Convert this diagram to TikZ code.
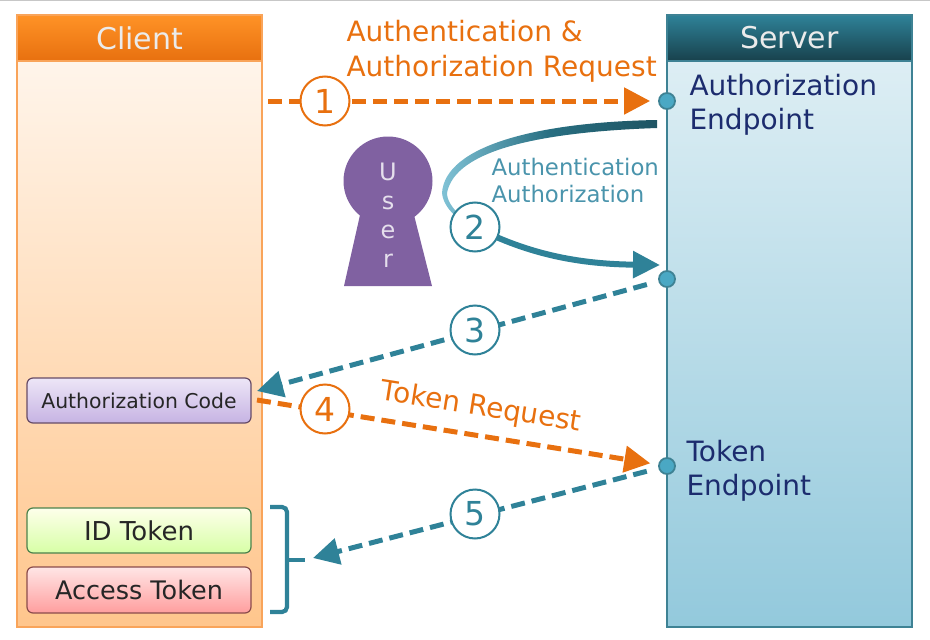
\documentclass[tikz,border=0pt]{standalone}
\usepackage{fontspec}
\setmainfont{DejaVu Sans}
\usetikzlibrary{arrows.meta}
\pgfdeclarelayer{panels}
\pgfdeclarelayer{flows}
\pgfsetlayers{panels,flows,main}
\definecolor{flowOrange}{HTML}{E8700F}
\definecolor{flowTeal}{HTML}{2F8298}
\definecolor{labelTeal}{HTML}{4A94AC}
\definecolor{labelNavy}{HTML}{1C2C6E}
\definecolor{userPurple}{HTML}{8061A1}
\definecolor{clientEdge}{HTML}{F9A45A}
\definecolor{serverEdge}{HTML}{3E8294}
\definecolor{serverTop}{HTML}{DDEEF4}
\definecolor{serverLow}{HTML}{93C9DC}
\definecolor{codeTop}{HTML}{EDE6F7}
\definecolor{codeLow}{HTML}{C6B3E3}
\definecolor{portFill}{HTML}{4AA8C4}
\def\Client{Client}
\def\Server{Server}
\def\AuthCode{Authorization Code}
\def\IdToken{ID Token}
\def\AccessToken{Access Token}
\tikzset{
    panelhead/.style={draw, anchor=north west, outer sep=0pt, line width=1.5pt, minimum width=245pt, minimum height=46pt, inner sep=0pt,
        text=white!92!black, font=\fontsize{30}{32}\selectfont},
    panelbody/.style={draw, anchor=north west, outer sep=0pt, line width=1.5pt, minimum width=245pt, minimum height=566pt, inner sep=0pt},
    tokenbox/.style={draw, anchor=north west, outer sep=0pt, rounded corners=6pt, line width=1.2pt, minimum width=224pt,
        inner sep=0pt, text=black!85},
    stepnum/.style={circle, draw, fill=white, line width=2pt, minimum size=49pt, inner sep=0pt,
        font=\fontsize{33}{35}\selectfont},
    portdot/.style={circle, draw=serverEdge, fill=portFill, line width=1.8pt, minimum size=16pt, inner sep=0pt},
    flow/.style={line width=5pt, dash pattern=on 14pt off 7pt, -{Triangle[length=26pt,width=26pt]}},
    endlabel/.style={anchor=west, align=left, text=labelNavy, font=\fontsize{28}{34.5}\selectfont}
}
\begin{document}
\begin{tikzpicture}[x=1pt, y=-1pt]
    \useasboundingbox (0,0) rectangle (930,640);
    \fill[black!22] (0,0) rectangle (930,1);

    \begin{pgfonlayer}{panels}
    \node[panelbody, draw=clientEdge, top color=orange!8!white, bottom color=orange!45!white] (clientBody) at (17,61) {};
    \node[panelhead, draw=clientEdge, top color=orange!85!white, bottom color=flowOrange] (clientHead) at (17,15) {\raisebox{-1pt}{\Client}};
    \node[panelbody, draw=serverEdge, top color=serverTop, bottom color=serverLow] (serverBody) at (667,61) {};
    \node[panelhead, draw=serverEdge, top color=flowTeal, bottom color=flowTeal!50!black] (serverHead) at (667,15) {\raisebox{-1pt}{\Server}};

    \node[tokenbox, draw=violet!30!black!70, top color=codeTop, bottom color=codeLow, minimum height=45pt,
        font=\fontsize{20.4}{22}\selectfont] (authCode) at (27,378) {\AuthCode};
    \node[tokenbox, draw=green!30!black!70, top color=green!6!yellow!8!white, bottom color=green!45!yellow!35!white, minimum height=45pt,
        font=\fontsize{26}{28}\selectfont] (idToken) at (27,508) {\IdToken};
    \node[tokenbox, draw=red!35!black!70, top color=red!10!white, bottom color=red!38!white, minimum height=46pt,
        font=\fontsize{25.5}{28}\selectfont] (accessToken) at (27,567) {\AccessToken};
    \end{pgfonlayer}

    \node[portdot] (authDot) at (667,101) {};
    \node[portdot] (midDot) at (667,279) {};
    \node[portdot] (tokenDot) at (667,466) {};

    \node[endlabel] (authEnd) at (686,105) {Authorization\\Endpoint};
    \node[endlabel] (tokenEnd) at (683,471) {Token\\Endpoint};

    \fill[userPurple] (360,215) -- (344,286) -- (432,286) -- (414,215) -- cycle;
    \fill[userPurple] (388,181) circle (44.5);
    \node[align=center, text=white!80!userPurple, font=\fontsize{24}{29}\selectfont] (userText) at (388,215) {U\\s\\e\\r};

    \node[anchor=west, align=left, text=flowOrange, font=\fontsize{28}{35}\selectfont] (reqLabel) at (343,51)
        {Authentication \&\\Authorization Request};
    \node[anchor=west, align=left, text=labelTeal, font=\fontsize{22.8}{27}\selectfont] (consentLabel) at (488,180)
        {Authentication\\Authorization};
    \node[rotate=-9, text=flowOrange, font=\fontsize{28}{30}\selectfont] (tokenLabel) at (481,408) {Token Request};

    \coordinate (reqStart) at (268,101);
    \coordinate (codeIn) at (257,391);
    \coordinate (codeOut) at (257,400);
    \coordinate (braceTip) at (313,558);
    \coordinate (swooshEnd) at (660,265);

    \node[stepnum, draw=flowOrange, text=flowOrange] (stepOne) at (325,101) {1};
    \node[stepnum, draw=flowTeal, text=flowTeal] (stepTwo) at (475,227) {2};
    \node[stepnum, draw=flowTeal, text=flowTeal] (stepThree) at (475,330) {3};
    \node[stepnum, draw=flowOrange, text=flowOrange] (stepFour) at (325,409) {4};
    \node[stepnum, draw=flowTeal, text=flowTeal] (stepFive) at (475,514) {5};

    \begin{pgfonlayer}{flows}
    % swoosh of step two
    \shade[left color=portFill!70!white, right color=flowTeal!65!black, middle color=flowTeal!85!black]
        (657,120) .. controls (540,122) and (445,145) .. (442,193)
        .. controls (443,203) and (450,212) .. (458,218) -- (460,215)
        .. controls (452,208) and (447,200) .. (447,193)
        .. controls (455,150) and (540,132) .. (657,128) -- cycle;
    \draw[flowTeal, line width=6pt, -{Triangle[length=27pt,width=26pt]}]
        (stepTwo.center) .. controls (530,255) and (580,264) .. (swooshEnd);

    \draw[flow, flowOrange, shorten >=8pt] (reqStart) -- (authDot);
    \draw[flow, flowTeal, shorten <=12pt] (midDot) -- (codeIn);
    \draw[flow, flowOrange, shorten >=8pt] (codeOut) -- (tokenDot);
    \draw[flow, flowTeal, shorten <=12pt] (tokenDot) -- (braceTip);
    \end{pgfonlayer}

    \draw[flowTeal, line width=4.2pt, rounded corners=5pt] (270,507) -- (287,507) -- (287,612) -- (270,612);
    \draw[flowTeal, line width=4.2pt] (287,560) -- (305,560);
\end{tikzpicture}
\end{document}
